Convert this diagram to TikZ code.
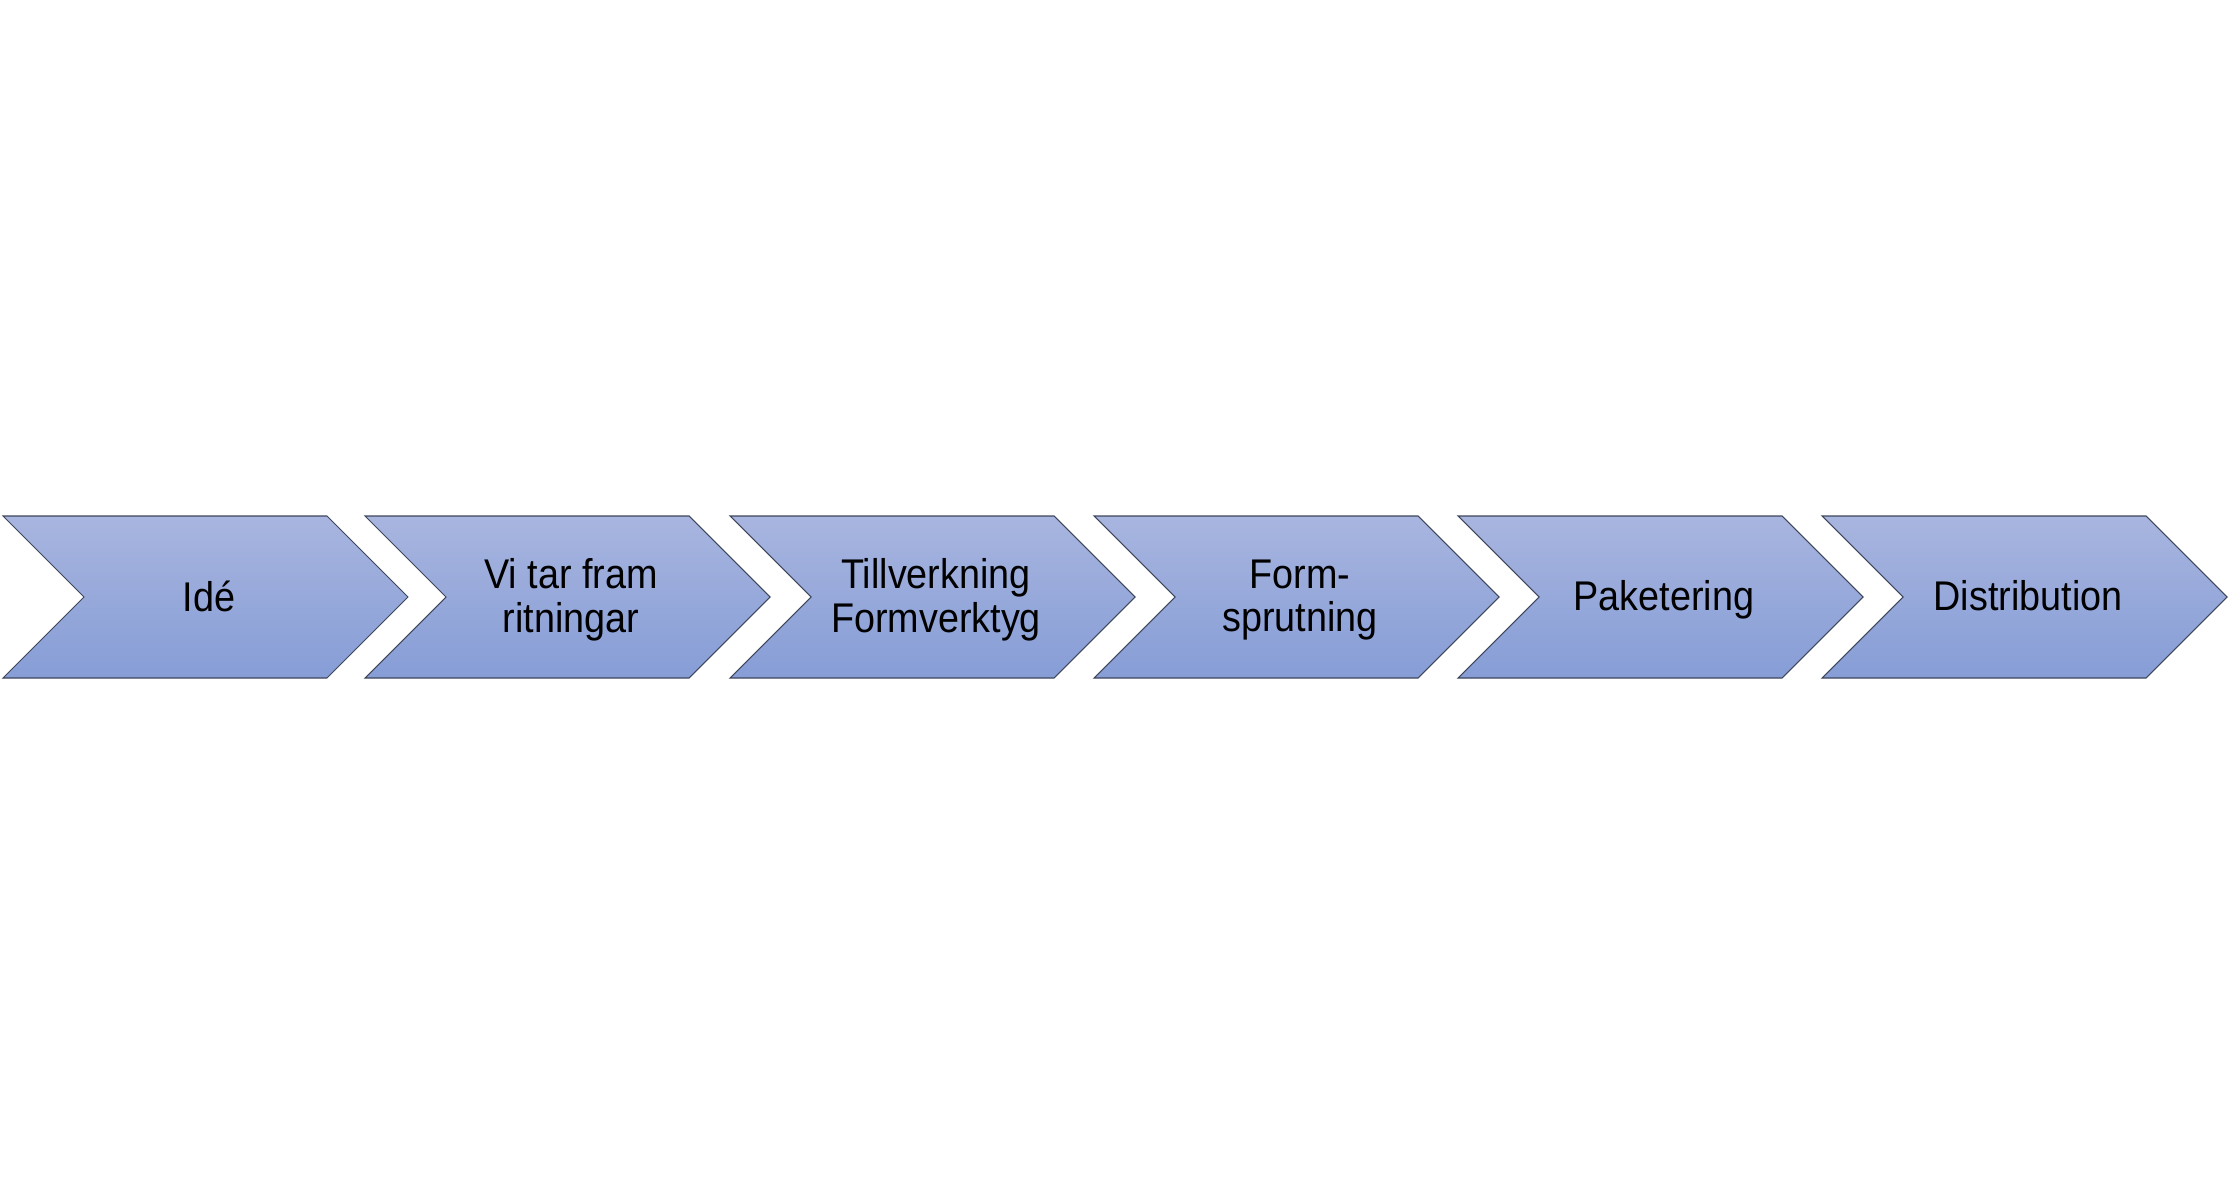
\documentclass[tikz,border=0pt]{standalone}
\usepackage{fontspec}
\setmainfont{Liberation Sans}[FakeStretch=0.91]
\usepackage{tikz}
\usetikzlibrary{positioning}
\definecolor{chevtop}{RGB}{168,181,223}
\definecolor{chevbot}{RGB}{134,157,214}
\definecolor{chevline}{RGB}{62,70,92}
\tikzset{
  chevron/.style={draw=chevline, line width=0.3pt, top color=chevtop, bottom color=chevbot},
  steplabel/.style={align=center, inner sep=0pt, font=\fontsize{11.8}{12.4}\selectfont}
}
\begin{document}
\begin{tikzpicture}[x=0.01cm,y=-0.01cm]
\useasboundingbox (0,0) rectangle (2229,1194);
% Chevron 1
\draw[chevron] (3,516) -- (327,516) -- (408,597) -- (327,678) -- (3,678) -- (84,597) -- cycle;
\node[steplabel] (ide) at (209,596) {Idé};

% Chevron 2
\draw[chevron] (365,516) -- (689,516) -- (770,597) -- (689,678) -- (365,678) -- (446,597) -- cycle;
\node[steplabel] (ritning) at (571,600) {Vi tar fram\\ritningar};

% Chevron 3
\draw[chevron] (730,516) -- (1054,516) -- (1135,597) -- (1054,678) -- (730,678) -- (811,597) -- cycle;
\node[steplabel] (verktyg) at (936,600) {Tillverkning\\Formverktyg};

% Chevron 4
\draw[chevron] (1094,516) -- (1418,516) -- (1499,597) -- (1418,678) -- (1094,678) -- (1175,597) -- cycle;
\node[steplabel] (sprutning) at (1300,600) {Form-\\sprutning};

% Chevron 5
\draw[chevron] (1458,516) -- (1782,516) -- (1863,597) -- (1782,678) -- (1458,678) -- (1539,597) -- cycle;
\node[steplabel] (paket) at (1664,600) {Paketering};

% Chevron 6
\draw[chevron] (1822,516) -- (2146,516) -- (2227,597) -- (2146,678) -- (1822,678) -- (1903,597) -- cycle;
\node[steplabel] (distr) at (2028,596) {Distribution};
\end{tikzpicture}
\end{document}
